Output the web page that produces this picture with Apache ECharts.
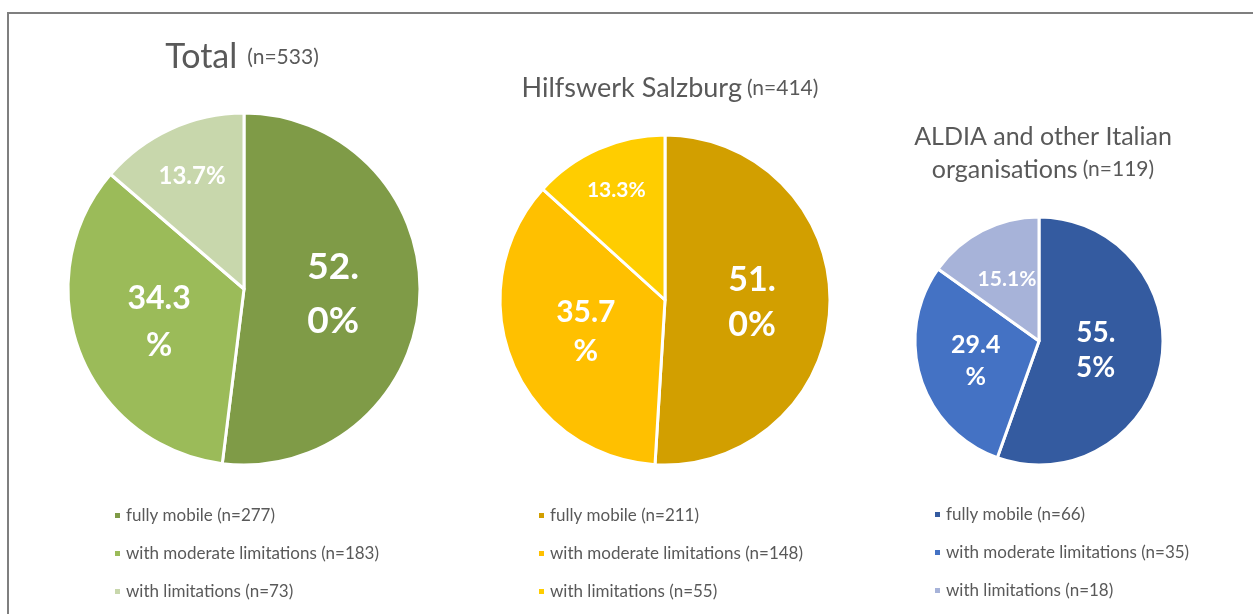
<!DOCTYPE html>
<html>
<head>
<meta charset="utf-8">
<script src="https://cdn.jsdelivr.net/npm/echarts@6/dist/echarts.min.js"></script>
<style>
  html, body { margin: 0; padding: 0; background: #fff; }
  #chart { width: 1253px; height: 614px; }
</style>
</head>
<body>
<div id="chart"></div>
<script>
// mobility categories, counts per group
const categories = ['fully mobile', 'with moderate limitations', 'with limitations']
const totalCounts = [277, 183, 73]
const hilfswerkCounts = [211, 148, 55]
const aldiaCounts = [66, 35, 18]

const groupCounts = [totalCounts, hilfswerkCounts, aldiaCounts]

// styling per pie
const palettes = [
  ['#7F9B47', '#9BBB59', '#C8D7AC'],
  ['#D29F00', '#FFC000', '#FFCD00'],
  ['#345BA0', '#4472C4', '#A7B3D9'],
]
const centers = [[244, 289], [665, 300], [1039, 341]]
const radii = [176, 165, 124]
const labelSizes = [[37, 32, 24], [34, 30, 21], [28, 25, 21]]
const labelLineHeights = [[54, 47, 26], [45, 39, 24], [35, 32, 24]]
const labelBreaks = [[3, 4, 0], [3, 4, 0], [3, 4, 0]]
const labelDist = [[0.49, 0.5, 0.69], [0.51, 0.5, 0.71], [0.44, 0.51, 0.54]]
const legendPos = [[108, 502], [532, 502], [928, 501]]

const chart = echarts.init(document.getElementById('chart'))

const sum = arr => arr.reduce((a, b) => a + b, 0)
const itemName = (cat, n) => cat + ' (n=' + n + ')'

const series = groupCounts.map((counts, s) => {
  const total = sum(counts)
  return {
    type: 'pie',
    center: centers[s],
    radius: [0, radii[s]],
    startAngle: 90,
    clockwise: true,
    avoidLabelOverlap: false,
    silent: true,
    itemStyle: { borderColor: '#fff', borderWidth: 3 },
    label: {
      show: true,
      position: 'inside',
      color: '#fff',
      fontWeight: 'bold',
      fontFamily: 'Lato, sans-serif',
      formatter: p => {
        const txt = (p.value / total * 100).toFixed(1) + '%'
        const b = labelBreaks[s][p.dataIndex]
        return b ? txt.slice(0, b) + '\n' + txt.slice(b) : txt
      },
    },
    labelLine: { show: false },
    labelLayout: p => {
      const i = p.dataIndex
      let before = 0
      for (let k = 0; k < i; k++) before += counts[k]
      const theta = (before + counts[i] / 2) / total * Math.PI * 2
      const shift = (labelDist[s][i] - 0.5) * radii[s]
      return { dx: shift * Math.sin(theta), dy: -shift * Math.cos(theta) }
    },
    data: counts.map((v, i) => ({
      name: itemName(categories[i], v),
      value: v,
      itemStyle: { color: palettes[s][i] },
      label: { fontSize: labelSizes[s][i], lineHeight: labelLineHeights[s][i] },
    })),
  }
})

const font = 'Lato, sans-serif'
const txt = (size, lh) => ({ fontSize: size, color: '#595959', fontFamily: font, fontWeight: 'normal', lineHeight: lh })
const titleRich = {
  big: txt(34, 38),
  a: txt(27, 33),
  c: txt(25, 33),
  b: txt(21, 33),
}

const title = [
  { text: '{big|Total}  {b|(n=' + sum(totalCounts) + ')}', left: 237, top: 33 },
  { text: '{a|Hilfswerk Salzburg} {b|(n=' + sum(hilfswerkCounts) + ')}', left: 665, top: 67 },
  { text: '{c|ALDIA and other Italian}\n{c|organisations} {b|(n=' + sum(aldiaCounts) + ')}', left: 1038, top: 115 },
].map(t => ({
  text: t.text,
  left: t.left,
  top: t.top,
  textAlign: 'center',
  textStyle: { fontWeight: 'normal', rich: titleRich },
}))

const legend = groupCounts.map((counts, s) => ({
  orient: 'vertical',
  left: legendPos[s][0],
  top: legendPos[s][1],
  icon: 'rect',
  itemWidth: 7,
  itemHeight: 7,
  itemGap: 21,
  selectedMode: false,
  textStyle: { fontSize: 17, color: '#595959', fontFamily: font },
  data: counts.map((v, i) => itemName(categories[i], v)),
}))

chart.setOption({
  backgroundColor: '#fff',
  animation: false,
  title,
  legend,
  graphic: [{
    type: 'rect',
    shape: { x: 8, y: 13, width: 1300, height: 700 },
    style: { fill: 'none', stroke: '#7F7F7F', lineWidth: 2 },
    silent: true,
  }],
  series,
})
</script>
</body>
</html>
